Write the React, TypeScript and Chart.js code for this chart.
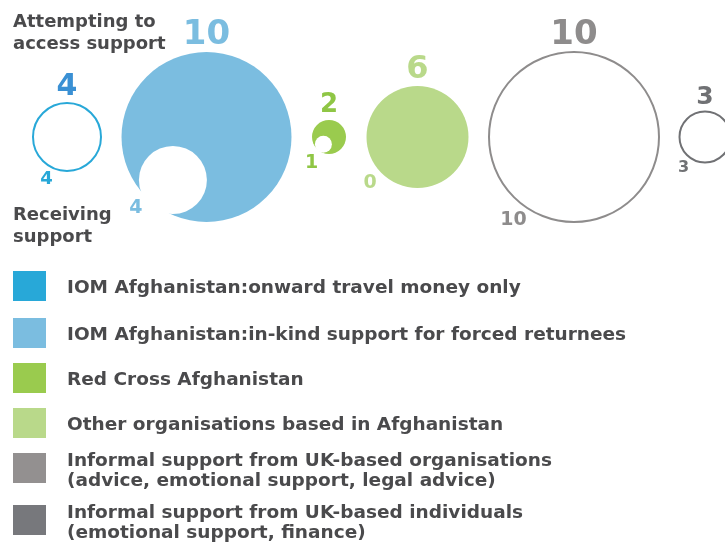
import React, { useEffect, useRef } from "react";
import { Chart, registerables } from "chart.js";

Chart.register(...registerables);

// ---- data ----
const legendLabels: string[][] = [
  ["IOM Afghanistan:onward travel money only"],
  ["IOM Afghanistan:in-kind support for forced returnees"],
  ["Red Cross Afghanistan"],
  ["Other organisations based in Afghanistan"],
  ["Informal support from UK-based organisations", "(advice, emotional support, legal advice)"],
  ["Informal support from UK-based individuals", "(emotional support, finance)"],
];
const attempting = [4, 10, 2, 6, 10, 3];
const receiving = [4, 4, 1, 0, 10, 3];
const attemptingTitle = ["Attempting to", "access support"];
const receivingTitle = ["Receiving", "support"];

// ---- styles ----
const swatchColors = ["#28a8d8", "#7bbde0", "#9acb4e", "#b9d98a", "#939090", "#77787c"];
const circleFill = ["#ffffff", "#7bbde0", "#9acb4e", "#b9d98a", "#ffffff", "#ffffff"];
const circleStroke = ["#28a8d8", "#7bbde0", "#9acb4e", "#b9d98a", "#8e8c8c", "#707174"];
const strokeWidth = [2, 0, 0, 0, 2, 2];
const topLabelColor = ["#3a90d4", "#7bbde0", "#8fc645", "#b9d98a", "#8e8c8c", "#707174"];
const topLabelSize = [30, 34, 26, 32, 34, 25];
const bottomLabelColor = ["#28a8d8", "#7bbde0", "#8fc645", "#b9d98a", "#8e8c8c", "#707174"];
const bottomLabelSize = [18, 19, 19, 19, 19, 16];
const bottomLabelAngle = [116, 135, 124, 136, 126, 125];
const bottomLabelGap = [13, 15, 14, 15, 18, 12];
const TEXT = "#4a4a4c";
const FONT = "'DejaVu Sans', sans-serif";

const W = 725;
const H = 542;
const UNIT = 8.5; // px of radius per person
const GAP = 20.5;
const START = 33;
const ROW_TOP = 137;

export default function App() {
  const ref = useRef<HTMLCanvasElement | null>(null);

  useEffect(() => {
    if (!ref.current) return;
    let cursor = START;
    const centers = attempting.map((v) => {
      const R = v * UNIT;
      const c = cursor + R;
      cursor = c + R + GAP;
      return c;
    });
    const outer = attempting.map((v, i) => ({ x: centers[i], y: 0, r: v * UNIT }));
    const ang = (128 * Math.PI) / 180;
    const inner = receiving.map((v, i) => {
      const R = attempting[i] * UNIT;
      const r = circleFill[i] === "#ffffff" ? 0 : v * UNIT;
      const d = (R - r) * 1.07;
      return { x: centers[i] + d * Math.cos(ang), y: d * Math.sin(ang), r };
    });

    const labelsPlugin = {
      id: "labels",
      afterDatasetsDraw(chart: any) {
        const ctx = chart.ctx as CanvasRenderingContext2D;
        const xs = chart.scales.x;
        const ys = chart.scales.y;
        ctx.save();
        attempting.forEach((v, i) => {
          const cx = xs.getPixelForValue(centers[i]);
          const cy = ys.getPixelForValue(0);
          const R = v * UNIT;
          ctx.fillStyle = topLabelColor[i];
          ctx.font = `bold ${topLabelSize[i]}px ${FONT}`;
          ctx.textAlign = "center";
          ctx.textBaseline = "alphabetic";
          ctx.fillText(String(v), cx, cy - R - 8);
          const a = (bottomLabelAngle[i] * Math.PI) / 180;
          const d = R + bottomLabelGap[i];
          ctx.fillStyle = bottomLabelColor[i];
          ctx.font = `bold ${bottomLabelSize[i]}px ${FONT}`;
          ctx.textBaseline = "middle";
          ctx.fillText(String(receiving[i]), cx + d * Math.cos(a), cy + d * Math.sin(a));
        });
        // annotations
        ctx.fillStyle = TEXT;
        ctx.font = `bold 18px ${FONT}`;
        ctx.textAlign = "left";
        ctx.textBaseline = "alphabetic";
        attemptingTitle.forEach((t, k) => ctx.fillText(t, 13, 27 + k * 22));
        receivingTitle.forEach((t, k) => ctx.fillText(t, 13, 220 + k * 22));
        // legend
        const rowCenters = [286, 333, 378, 423, 468, 520];
        legendLabels.forEach((lines, i) => {
          const yc = rowCenters[i];
          ctx.fillStyle = swatchColors[i];
          ctx.fillRect(13, yc - 15, 33, 30);
          ctx.fillStyle = TEXT;
          ctx.font = `bold 18.5px ${FONT}`;
          ctx.textBaseline = "middle";
          if (lines.length === 1) {
            ctx.fillText(lines[0], 67, yc + 2);
          } else {
            lines.forEach((t, k) => ctx.fillText(t, 67, yc - 7 + k * 20));
          }
        });
        ctx.restore();
      },
    };

    const chart = new Chart(ref.current, {
      type: "bubble",
      data: {
        datasets: [
          {
            label: "Receiving support",
            data: inner,
            backgroundColor: "#ffffff",
            borderWidth: 0,
            clip: false as any,
          },
          {
            label: "Attempting to access support",
            data: outer,
            backgroundColor: circleFill,
            borderColor: circleStroke,
            borderWidth: strokeWidth,
            clip: false as any,
          },
        ],
      },
      options: {
        responsive: false,
        animation: false,
        devicePixelRatio: 1,
        layout: { padding: 0, autoPadding: false },
        plugins: { legend: { display: false }, tooltip: { enabled: false } },
        events: [],
        scales: {
          x: { type: "linear", display: false, min: 0, max: W },
          y: { type: "linear", display: false, min: -ROW_TOP, max: H - ROW_TOP, reverse: true },
        },
      },
      plugins: [labelsPlugin],
    });
    return () => chart.destroy();
  }, []);

  return (
    <div style={{ position: "absolute", left: 0, top: 0, width: W, height: H, background: "#fff" }}>
      <canvas ref={ref} width={W} height={H} style={{ display: "block" }} />
    </div>
  );
}
